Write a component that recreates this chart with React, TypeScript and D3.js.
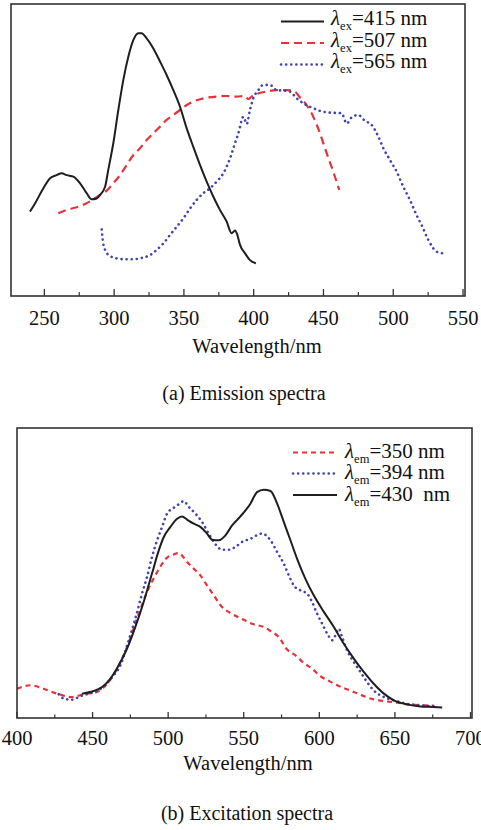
import React from 'react';
import * as d3 from 'd3';

// ---------- Data: (a) emission spectra, [wavelength nm, relative intensity] ----------
const emission415: [number, number][] = [
  [239.7, 0.289], [243.3, 0.317], [249.3, 0.369], [254.1, 0.403], [258.8, 0.414], [262.4, 0.42],
  [266.0, 0.414], [270.8, 0.409], [275.6, 0.386], [280.3, 0.352], [283.9, 0.331], [287.5, 0.334],
  [289.9, 0.346], [293.5, 0.374], [295.8, 0.432], [299.4, 0.523], [303.0, 0.637], [306.6, 0.74],
  [310.2, 0.82], [313.8, 0.877], [317.3, 0.9], [319.7, 0.9], [323.3, 0.882], [328.1, 0.848],
  [332.9, 0.803], [337.6, 0.757], [342.4, 0.705], [347.2, 0.648], [352.0, 0.574], [356.7, 0.511],
  [361.5, 0.449], [366.3, 0.392], [371.1, 0.34], [375.8, 0.295], [380.6, 0.255], [384.2, 0.215],
  [386.6, 0.224], [388.3, 0.209], [390.2, 0.175], [393.8, 0.146], [397.3, 0.123], [401.6, 0.112],
];
const emission507: [number, number][] = [
  [260.0, 0.283], [266.0, 0.295], [273.2, 0.304], [279.1, 0.315], [285.1, 0.331], [289.9, 0.346],
  [294.7, 0.361], [299.4, 0.386], [304.2, 0.414], [309.0, 0.449], [313.8, 0.483], [318.5, 0.506],
  [323.3, 0.534], [328.1, 0.557], [332.9, 0.58], [337.6, 0.603], [342.4, 0.62], [347.2, 0.637],
  [352.0, 0.654], [356.7, 0.666], [361.5, 0.674], [366.3, 0.679], [373.5, 0.683], [380.6, 0.685],
  [387.8, 0.683], [393.8, 0.685], [396.1, 0.674], [398.5, 0.683], [402.1, 0.692], [409.3, 0.7],
  [416.4, 0.705], [423.6, 0.705], [428.4, 0.703], [433.2, 0.68], [437.9, 0.654], [442.7, 0.614],
  [447.5, 0.557], [452.3, 0.489], [457.0, 0.426], [461.3, 0.363],
];
const emission565: [number, number][] = [
  [291.1, 0.228], [291.8, 0.192], [293.5, 0.158], [297.0, 0.137], [301.8, 0.129], [306.6, 0.126],
  [313.8, 0.126], [320.9, 0.132], [325.7, 0.14], [330.5, 0.158], [335.3, 0.18], [340.0, 0.209],
  [344.8, 0.237], [349.6, 0.266], [354.4, 0.3], [359.1, 0.329], [363.9, 0.352], [368.7, 0.369],
  [373.5, 0.392], [378.2, 0.42], [383.0, 0.471], [386.6, 0.523], [389.0, 0.557], [392.6, 0.614],
  [395.0, 0.589], [397.3, 0.637], [399.7, 0.677], [403.3, 0.705], [406.9, 0.723], [411.7, 0.723],
  [416.4, 0.705], [422.4, 0.703], [426.0, 0.7], [430.8, 0.677], [435.5, 0.66], [442.7, 0.643],
  [447.5, 0.634], [454.7, 0.628], [463.0, 0.626], [466.6, 0.591], [470.2, 0.612], [474.9, 0.62],
  [479.7, 0.6], [484.5, 0.586], [489.3, 0.546], [492.9, 0.506], [497.6, 0.466], [502.4, 0.426],
  [507.2, 0.374], [511.9, 0.329], [516.7, 0.277], [520.3, 0.243], [525.1, 0.192], [531.1, 0.152],
  [535.8, 0.146],
];

// ---------- Data: (b) excitation spectra ----------
const excitation350: [number, number][] = [
  [400.0, 0.101], [408.8, 0.113], [417.6, 0.101], [426.5, 0.084], [436.4, 0.072], [444.1, 0.082],
  [453.0, 0.09], [459.6, 0.118], [466.2, 0.17], [472.8, 0.245], [479.4, 0.343], [486.0, 0.434],
  [492.7, 0.503], [499.3, 0.553], [503.7, 0.564], [507.0, 0.569], [512.5, 0.538], [516.9, 0.515],
  [521.3, 0.492], [525.7, 0.457], [530.2, 0.423], [534.6, 0.389], [541.2, 0.362], [547.8, 0.344],
  [556.6, 0.323], [563.2, 0.314], [567.7, 0.3], [573.2, 0.279], [578.7, 0.236], [584.2, 0.216],
  [589.7, 0.19], [595.2, 0.17], [600.8, 0.144], [606.3, 0.128], [611.8, 0.113], [617.3, 0.101],
  [622.8, 0.09], [628.3, 0.078], [633.8, 0.067], [639.4, 0.061], [644.9, 0.057], [651.5, 0.053],
  [658.1, 0.047], [666.9, 0.044], [675.8, 0.043],
];
const excitation394: [number, number][] = [
  [427.6, 0.082], [430.9, 0.067], [436.4, 0.063], [441.9, 0.075], [447.4, 0.084], [452.9, 0.093],
  [457.4, 0.109], [462.9, 0.141], [468.4, 0.182], [473.9, 0.268], [478.3, 0.343], [482.7, 0.429],
  [486.0, 0.486], [489.3, 0.555], [492.7, 0.613], [496.0, 0.659], [499.3, 0.705], [503.7, 0.725],
  [507.0, 0.737], [510.3, 0.748], [513.6, 0.728], [518.0, 0.705], [522.4, 0.676], [526.8, 0.636],
  [531.3, 0.599], [535.7, 0.58], [540.1, 0.58], [544.5, 0.59], [548.9, 0.607], [554.4, 0.618],
  [562.1, 0.636], [567.7, 0.613], [572.1, 0.572], [576.5, 0.532], [579.8, 0.492], [583.1, 0.457],
  [587.5, 0.44], [591.9, 0.429], [595.2, 0.4], [598.5, 0.36], [601.9, 0.325], [605.2, 0.291],
  [608.5, 0.268], [610.7, 0.285], [612.9, 0.308], [615.1, 0.279], [618.4, 0.233], [622.8, 0.193],
  [627.2, 0.159], [631.6, 0.124], [636.0, 0.095], [642.7, 0.072], [649.3, 0.061], [658.1, 0.049],
  [666.9, 0.044], [675.8, 0.04],
];
const excitation430: [number, number][] = [
  [443.0, 0.084], [450.7, 0.093], [456.3, 0.107], [461.8, 0.136], [467.3, 0.182], [472.8, 0.239],
  [478.3, 0.314], [483.8, 0.4], [489.3, 0.498], [493.8, 0.578], [497.1, 0.624], [501.5, 0.659],
  [505.9, 0.687], [509.2, 0.695], [512.5, 0.684], [516.9, 0.67], [521.3, 0.659], [525.7, 0.636],
  [529.1, 0.615], [533.5, 0.613], [537.9, 0.63], [542.3, 0.664], [547.8, 0.695], [554.4, 0.739],
  [558.8, 0.779], [563.2, 0.787], [567.7, 0.783], [572.1, 0.739], [576.5, 0.676], [580.9, 0.613],
  [585.3, 0.549], [590.8, 0.48], [596.3, 0.423], [603.0, 0.366], [609.6, 0.314], [616.2, 0.256],
  [622.8, 0.205], [629.4, 0.159], [636.0, 0.118], [642.7, 0.084], [649.3, 0.061], [658.1, 0.047],
  [666.9, 0.04], [675.8, 0.038], [681.3, 0.036],
];

const emissionTicks = [250, 300, 350, 400, 450, 500, 550];
const emissionMinor = [275, 325, 375, 425, 475, 525];
const excitationTicks = [400, 450, 500, 550, 600, 650, 700];
const excitationMinor = [425, 475, 525, 575, 625, 675];

const emissionLabels = ['=415 nm', '=507 nm', '=565 nm'];
const excitationLabels = ['=350 nm', '=394 nm', '=430  nm'];

const FONT = '"Liberation Serif", "Times New Roman", serif';
const BLACK = '#1e1e1e';
const RED = '#e8323a';
const BLUE = '#4045ae';

type Style = { color: string; dash: string; width: number; cap: 'round' | 'butt' };
const solid: Style = { color: BLACK, dash: 'none', width: 2, cap: 'butt' };
const dashedA: Style = { color: RED, dash: '8 5', width: 2.2, cap: 'butt' };
const dashedB: Style = { color: RED, dash: '5 4', width: 2.2, cap: 'butt' };
const dotted: Style = { color: BLUE, dash: '0.1 5', width: 2.6, cap: 'round' };

type PanelProps = {
  xDomain: [number, number];
  box: { left: number; right: number; top: number; bottom: number };
  ticks: number[];
  minor: number[];
  series: { data: [number, number][]; style: Style }[];
  legend: { style: Style; sub: string; label: string }[];
  legendLine: [number, number];
  legendTextX: number;
  legendYs: number[];
  legendBaseOffset: number;
  tickBaseline: number;
  titleX: number;
  titleY: number;
  caption: string;
  captionX: number;
  captionY: number;
  majorLen: number;
  minorLen: number;
};

function Panel(p: PanelProps) {
  const x = d3.scaleLinear().domain(p.xDomain).range([p.box.left, p.box.right]);
  const y = d3.scaleLinear().domain([0, 1]).range([p.box.bottom, p.box.top]);
  const line = d3
    .line<[number, number]>()
    .x((d) => x(d[0]))
    .y((d) => y(d[1]))
    .curve(d3.curveMonotoneX);
  const { left, right, top, bottom } = p.box;
  return (
    <g>
      {p.series.map((s, i) => (
        <path
          key={i}
          d={line(s.data) || ''}
          fill="none"
          stroke={s.style.color}
          strokeWidth={s.style.width}
          strokeDasharray={s.style.dash}
          strokeLinecap={s.style.cap}
          strokeLinejoin="round"
        />
      ))}
      <rect x={left} y={top} width={right - left} height={bottom - top} fill="none" stroke="#333" strokeWidth={1.6} />
      {p.ticks.map((t) => (
        <g key={'t' + t}>
          <line x1={x(t)} x2={x(t)} y1={bottom} y2={bottom - p.majorLen} stroke="#333" strokeWidth={1.3} />
          <text x={x(t)} y={p.tickBaseline} textAnchor="middle" fontFamily={FONT} fontSize={20.5} fill="#111">
            {t}
          </text>
        </g>
      ))}
      {p.minor.map((t) => (
        <line key={'m' + t} x1={x(t)} x2={x(t)} y1={bottom} y2={bottom - p.minorLen} stroke="#333" strokeWidth={1.2} />
      ))}
      <text x={p.titleX} y={p.titleY} textAnchor="middle" fontFamily={FONT} fontSize={20.5} fill="#111">
        Wavelength/nm
      </text>
      <text x={p.captionX} y={p.captionY} textAnchor="middle" fontFamily={FONT} fontSize={20} fill="#111">
        {p.caption}
      </text>
      {p.legend.map((l, i) => (
        <g key={'l' + i}>
          <line
            x1={p.legendLine[0]}
            x2={p.legendLine[1]}
            y1={p.legendYs[i]}
            y2={p.legendYs[i]}
            stroke={l.style.color}
            strokeWidth={l.style.width}
            strokeDasharray={l.style.dash}
            strokeLinecap={l.style.cap}
          />
          <text
            x={p.legendTextX}
            y={p.legendYs[i] + p.legendBaseOffset}
            fontFamily={FONT}
            fontSize={21}
            fill="#111"
            style={{ whiteSpace: 'pre' }}
          >
            <tspan fontStyle="italic">λ</tspan>
            <tspan fontSize={12.5} dy={5}>
              {l.sub}
            </tspan>
            <tspan dy={-5}>{l.label}</tspan>
          </text>
        </g>
      ))}
    </g>
  );
}

export default function App() {
  return (
    <svg
      width={481}
      height={830}
      viewBox="0 0 481 830"
      style={{ position: 'absolute', left: 0, top: 0, background: '#ffffff' }}
    >
      <Panel
        xDomain={[226.1, 551.4]}
        box={{ left: 11, right: 465, top: 4, bottom: 296 }}
        ticks={emissionTicks}
        minor={emissionMinor}
        series={[
          { data: emission507, style: dashedA },
          { data: emission565, style: dotted },
          { data: emission415, style: solid },
        ]}
        legend={[
          { style: solid, sub: 'ex', label: emissionLabels[0] },
          { style: dashedA, sub: 'ex', label: emissionLabels[1] },
          { style: dotted, sub: 'ex', label: emissionLabels[2] },
        ]}
        legendLine={[281, 324]}
        legendTextX={331}
        legendYs={[21.5, 43, 64.5]}
        legendBaseOffset={3.5}
        tickBaseline={325}
        titleX={257}
        titleY={353}
        caption="(a) Emission spectra"
        captionX={244}
        captionY={400}
        majorLen={7}
        minorLen={4}
      />
      <Panel
        xDomain={[400, 701]}
        box={{ left: 17, right: 472, top: 428, bottom: 718 }}
        ticks={excitationTicks}
        minor={excitationMinor}
        series={[
          { data: excitation350, style: dashedB },
          { data: excitation394, style: dotted },
          { data: excitation430, style: solid },
        ]}
        legend={[
          { style: dashedB, sub: 'em', label: excitationLabels[0] },
          { style: dotted, sub: 'em', label: excitationLabels[1] },
          { style: solid, sub: 'em', label: excitationLabels[2] },
        ]}
        legendLine={[293, 337]}
        legendTextX={345}
        legendYs={[452.5, 473.5, 495]}
        legendBaseOffset={5.5}
        tickBaseline={745}
        titleX={248}
        titleY={770}
        caption="(b) Excitation spectra"
        captionX={247}
        captionY={820}
        majorLen={6}
        minorLen={3.5}
      />
    </svg>
  );
}
